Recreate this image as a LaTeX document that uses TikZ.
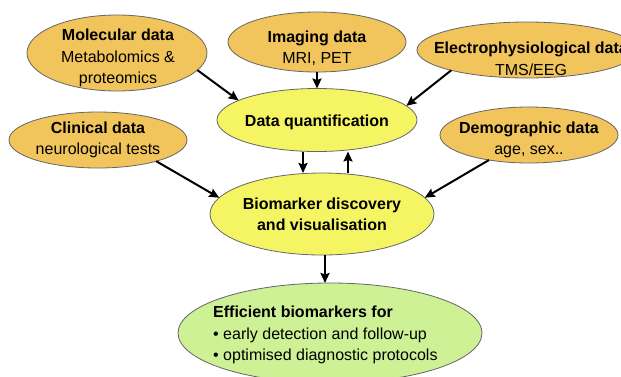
\documentclass[tikz,border=0pt]{standalone}
\usepackage{fontspec}
\setmainfont{Liberation Sans}
\usetikzlibrary{shapes.geometric,arrows.meta}
\definecolor{cOr}{RGB}{241,196,92}
\definecolor{cYe}{RGB}{245,245,100}
\definecolor{cGr}{RGB}{205,241,148}
\begin{document}
\begin{tikzpicture}[x=1pt,y=-1pt,
  ell/.style={ellipse, draw=black!60, line width=0.8pt, inner sep=0pt, outer sep=0pt},
  srcell/.style={ell, fill=cOr},
  midell/.style={ell, fill=cYe},
  outell/.style={ell, fill=cGr},
  txt/.style={font=\fontsize{16}{21.5}\selectfont, align=center, inner sep=0pt},
  arr/.style={-{Stealth[length=10pt,width=9pt,inset=1.5pt]}, line width=2pt}]
\useasboundingbox (0,0) rectangle (621,376);
\clip (0,0) rectangle (621,376);
\fill[white] (0,0) rectangle (621,376);
% ellipses
\node[srcell, minimum width=180pt, minimum height=76pt] (mol) at (117,53) {};
\node[srcell, minimum width=178pt, minimum height=60pt] (img) at (317,42) {};
\node[srcell, minimum width=220pt, minimum height=56pt] (elec) at (527,50) {};
\node[midell, minimum width=200pt, minimum height=63pt] (dq) at (317,120) {};
\node[srcell, minimum width=178pt, minimum height=56pt] (clin) at (98,140) {};
\node[srcell, minimum width=178pt, minimum height=56pt] (demo) at (529,135) {};
\node[midell, minimum width=224pt, minimum height=82pt] (bio) at (322,214) {};
\node[outell, minimum width=304pt, minimum height=100pt] (eff) at (330,333) {};
% texts
\node[txt] (tmol) at (118,58) {\textbf{Molecular data}\\Metabolomics \&\\proteomics};
\node[txt] (timg) at (317,48) {\textbf{Imaging data}\\MRI, PET};
\node[txt] (telec) at (531,59) {\textbf{Electrophysiological data}\\TMS/EEG};
\node[txt] (tdq) at (317,122) {\textbf{Data quantification}};
\node[txt] (tclin) at (98,140) {\textbf{Clinical data}\\neurological tests};
\node[txt] (tdemo) at (529,140) {\textbf{Demographic data}\\age, sex..};
\node[txt] (tbio) at (322,214.5) {\textbf{Biomarker discovery}\\\textbf{and visualisation}};
\node[txt, align=left, anchor=west] (teff) at (213,335) {\textbf{Efficient biomarkers for}\\\textbullet\ early detection and follow-up\\\textbullet\ optimised diagnostic protocols};
% connectors
\draw[arr] (mol.-12.4) -- (dq.166);
\draw[arr] (img.south) -- (dq.north);
\draw[arr] (elec.195.6) -- (dq.9.4);
\draw[arr] ([xshift=-14pt]dq.south) -- ([xshift=-19pt]bio.north);
\draw[arr] ([xshift=26pt]bio.north) -- ([xshift=31pt]dq.south);
\draw[arr] (clin.-20.1) -- (bio.171);
\draw[arr] (demo.212.4) -- (bio.9.4);
\draw[arr] ([xshift=3pt]bio.south) -- ([xshift=-5pt]eff.north);
\end{tikzpicture}
\end{document}
